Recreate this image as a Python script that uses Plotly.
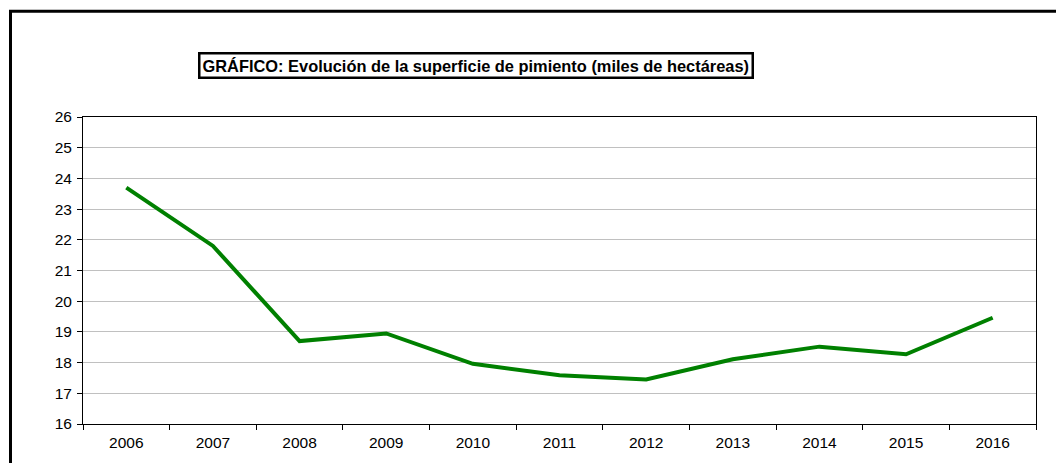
import plotly.graph_objects as go

years = ["2006", "2007", "2008", "2009", "2010", "2011", "2012", "2013", "2014", "2015", "2016"]
superficie = [23.7, 21.8, 18.7, 18.95, 17.96, 17.59, 17.45, 18.11, 18.52, 18.27, 19.46]
y_ticks = list(range(16, 27))
title_text = "GRÁFICO: Evolución de la superficie de pimiento (miles de hectáreas)"

OFF = 8  # page body margin
W, H = 1064 - OFF, 463 - OFF
L, R, T, B = 83 - OFF, 28, 117 - OFF, 37
pw, ph = W - L - R, H - T - B

def px_x(x):
    return (x - OFF - L) / pw

def px_y(y):
    return (H - B - (y - OFF)) / ph

fig = go.Figure()
fig.add_trace(go.Scatter(
    x=years, y=superficie, mode="lines",
    line=dict(color="#008000", width=4),
    showlegend=False, hoverinfo="skip",
))

fig.update_layout(
    width=W, height=H,
    margin=dict(l=L, r=R, t=T, b=B),
    paper_bgcolor="white", plot_bgcolor="white",
    font=dict(family="Liberation Sans, Arial, sans-serif", size=16, color="black"),
    xaxis=dict(
        type="category", range=[-0.5, 10.5], tickson="boundaries",
        ticks="outside", ticklen=5, ticklabelstandoff=4,
        tickcolor="black", showline=True, linecolor="black", linewidth=1,
        mirror=True, showgrid=False, tickfont=dict(size=15.5),
    ),
    yaxis=dict(
        range=[16, 26], tickvals=y_ticks, ticks="outside", ticklen=5,
        tickcolor="black", showline=True, linecolor="black", linewidth=1,
        mirror=True, showgrid=True, gridcolor="#c0c0c0", gridwidth=1,
        zeroline=False, tickfont=dict(size=15.5), ticklabelstandoff=2,
    ),
    shapes=[dict(
        type="rect", xref="paper", yref="paper",
        x0=px_x(10.5), x1=px_x(1090), y0=px_y(490), y1=px_y(10.5),
        line=dict(color="black", width=3), fillcolor="rgba(0,0,0,0)",
        layer="above",
    )],
    annotations=[dict(
        text="<b>" + title_text + "</b>", xref="paper", yref="paper",
        x=px_x(475.5), y=px_y(65), xanchor="center", yanchor="middle",
        showarrow=False, font=dict(size=16.4, color="black"),
        bordercolor="black", borderwidth=2.5, borderpad=2, bgcolor="white",
    )],
)

fig.write_html("out.html")
